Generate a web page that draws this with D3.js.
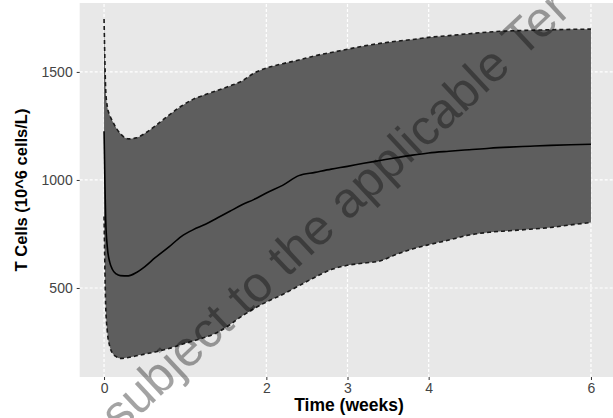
<!DOCTYPE html>
<html>
<head>
<meta charset="utf-8">
<script src="https://cdn.jsdelivr.net/npm/d3@7"></script>
<style>
  html, body { margin: 0; padding: 0; background: #ffffff; }
  svg { display: block; }
</style>
</head>
<body>
<svg id="chart" width="613" height="418"></svg>
<script>
// ---- data ----
const timeWeeks = [0, 0.01, 0.02, 0.04, 0.07, 0.1, 0.15, 0.2, 0.3, 0.4, 0.5, 0.63, 0.8, 0.95, 1.1, 1.25, 1.4, 1.55, 1.7, 1.85, 2.0, 2.2, 2.4, 2.6, 2.8, 3.0, 3.2, 3.4, 3.6, 3.8, 4.0, 4.25, 4.5, 4.75, 5.0, 5.25, 5.5, 5.75, 6.0];
const meanCells = [1225, 1000, 820, 690, 620, 588, 565, 557, 556, 572, 598, 640, 690, 738, 770, 795, 825, 855, 885, 910, 940, 975, 1020, 1035, 1050, 1063, 1077, 1090, 1103, 1115, 1125, 1133, 1140, 1147, 1152, 1156, 1160, 1163, 1165];
const upperCells = [1745, 1560, 1420, 1340, 1300, 1275, 1240, 1215, 1190, 1195, 1215, 1250, 1300, 1341, 1374, 1395, 1415, 1435, 1458, 1495, 1518, 1538, 1555, 1575, 1590, 1605, 1620, 1632, 1642, 1650, 1660, 1668, 1677, 1685, 1690, 1693, 1695, 1697, 1698];
const lowerCells = [831, 600, 420, 300, 230, 200, 182, 174, 178, 186, 194, 204, 220, 238, 255, 272, 295, 330, 370, 405, 435, 470, 510, 550, 585, 605, 615, 625, 655, 680, 700, 722, 745, 758, 765, 772, 780, 792, 803];
const xTicks = [0, 2, 3, 4, 6];
const yTicks = [500, 1000, 1500];
const xTitle = "Time (weeks)";
const yTitle = "T Cells (10^6 cells/L)";
const watermark = "subject to the applicable Ter";

// ---- layout ----
const svg = d3.select("#chart");
const x = d3.scaleLinear().domain([-0.3, 6.3]).range([79.7, 615.3]);
const y = d3.scaleLinear().domain([88, 1819]).range([377, 3]);

const rows = timeWeeks.map((t, i) => ({ t, m: meanCells[i], hi: upperCells[i], lo: lowerCells[i] }));

// panel background
svg.append("rect")
  .attr("x", x.range()[0]).attr("y", y.range()[1])
  .attr("width", x.range()[1] - x.range()[0])
  .attr("height", y.range()[0] - y.range()[1])
  .attr("fill", "#e8e8e8");

// grid
const grid = svg.append("g").attr("stroke", "#ffffff").attr("stroke-width", 1.2).attr("stroke-dasharray", "3,2");
grid.selectAll("line.h").data(yTicks).join("line")
  .attr("x1", x.range()[0]).attr("x2", x.range()[1])
  .attr("y1", d => y(d)).attr("y2", d => y(d));
grid.selectAll("line.v").data(xTicks).join("line")
  .attr("y1", y.range()[0]).attr("y2", y.range()[1])
  .attr("x1", d => x(d)).attr("x2", d => x(d));

// ribbon
const area = d3.area().x(d => x(d.t)).y0(d => y(d.lo)).y1(d => y(d.hi)).curve(d3.curveMonotoneX);
svg.append("path").datum(rows).attr("d", area).attr("fill", "#5e5e5e");

const lineOf = key => d3.line().x(d => x(d.t)).y(d => y(d[key])).curve(d3.curveMonotoneX);
["hi", "lo"].forEach(k => {
  svg.append("path").datum(rows).attr("d", lineOf(k))
    .attr("fill", "none").attr("stroke", "#1a1a1a").attr("stroke-width", 1.6)
    .attr("stroke-dasharray", "4,3");
});
svg.append("path").datum(rows).attr("d", lineOf("m"))
  .attr("fill", "none").attr("stroke", "#000000").attr("stroke-width", 1.6);

// axes
const font = "'Liberation Sans', Arial, sans-serif";
const yAxis = svg.append("g").attr("transform", `translate(${x.range()[0]},0)`)
  .call(d3.axisLeft(y).tickValues(yTicks).tickSize(3).tickPadding(4).tickFormat(d3.format("d")));
const xAxis = svg.append("g").attr("transform", `translate(0,${y.range()[0]})`)
  .call(d3.axisBottom(x).tickValues(xTicks).tickSize(3).tickPadding(3).tickFormat(d3.format("d")));
[xAxis, yAxis].forEach(a => {
  a.select(".domain").remove();
  a.selectAll(".tick line").attr("stroke", "#333333").attr("stroke-width", 1);
  a.selectAll(".tick text").attr("fill", "#444444").style("font-family", font).style("font-size", "14px");
});

// titles
svg.append("text").attr("x", 349).attr("y", 411).attr("text-anchor", "middle")
  .style("font-family", font).style("font-size", "17.5px").style("font-weight", "bold")
  .attr("fill", "#000").text(xTitle);
svg.append("text").attr("transform", "translate(27,190) rotate(-90)").attr("text-anchor", "middle")
  .style("font-family", font).style("font-size", "16.5px").style("font-weight", "bold")
  .attr("fill", "#000").text(yTitle);

// watermark
svg.append("text").attr("transform", "translate(120,434) rotate(-43)")
  .style("font-family", font).style("font-size", "50px")
  .attr("fill", "rgba(0,0,0,0.36)").text(watermark);
</script>
</body>
</html>
